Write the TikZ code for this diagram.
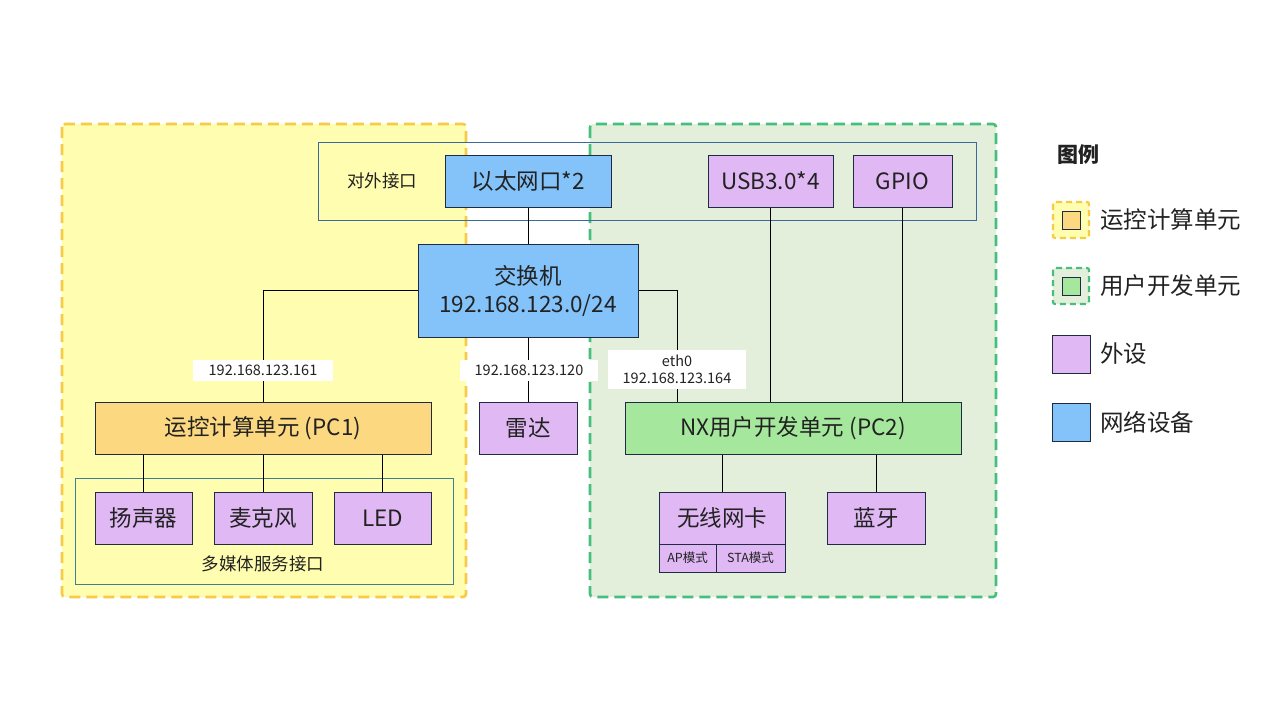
\documentclass[tikz,border=0pt]{standalone}
\usepackage{fontspec}
\setmainfont{Noto Sans CJK SC}
\definecolor{yfill}{HTML}{FFFDAF}
\definecolor{ydash}{HTML}{F7CB45}
\definecolor{gfill}{HTML}{E3EFDA}
\definecolor{gdash}{HTML}{45BE7E}
\definecolor{cblue}{HTML}{83C3FA}
\definecolor{cpurple}{HTML}{E0B8F4}
\definecolor{corange}{HTML}{FCD981}
\definecolor{cgreen}{HTML}{A5E79C}
\definecolor{lnc}{HTML}{1F2A44}
\definecolor{ifc}{HTML}{3A6A9A}
\definecolor{mmc}{HTML}{3F7F8F}
\definecolor{txt}{HTML}{222222}
\tikzset{
  wh/.style 2 args={minimum width=#1pt, minimum height=#2pt},
  dev/.style={draw=lnc, line width=1pt, inner sep=0pt, text=txt, font=\fontsize{22.5}{26}\selectfont},
  small/.style={draw=lnc, line width=1pt, inner sep=0pt, text=txt, font=\fontsize{12.5}{14}\selectfont},
  grpY/.style={draw=ydash, fill=yfill, line width=2.6pt, dash pattern=on 11pt off 6pt, rounded corners=3pt},
  grpG/.style={draw=gdash, fill=gfill, line width=2.6pt, dash pattern=on 11pt off 6pt, rounded corners=3pt},
  wire/.style={draw=black, line width=1pt},
  iplbl/.style={fill=white, inner sep=0pt, text=txt, font=\fontsize{14.5}{17}\selectfont, align=center},
  frametxt/.style={text=txt, font=\fontsize{17.5}{20}\selectfont, inner sep=0pt},
  legtxt/.style={text=txt, font=\fontsize{23.5}{26}\selectfont, inner sep=0pt, anchor=west},
}
\begin{document}
\begin{tikzpicture}[x=1pt,y=-1pt]
\useasboundingbox (0,0) rectangle (1280,720);
\fill[white] (0,0) rectangle (1280,720);

% groups
\draw[grpY] (62,124) rectangle (466,597);
\draw[grpG] (590,124) rectangle (996,597);

% external interface frame
\node[draw=ifc, line width=1pt, wh={658}{78}, inner sep=0pt] (ext) at (647,181) {};
\node[frametxt] (extlbl) at (382,181) {对外接口};

% multimedia frame
\node[draw=mmc, line width=1pt, wh={378}{106}, inner sep=0pt] (mm) at (264,531) {};
\node[frametxt] (mmlbl) at (263,564) {多媒体服务接口};

% devices
\node[dev, fill=cblue, wh={166}{52}] (eth) at (528,181) {以太网口*2};
\node[dev, fill=cpurple, wh={125}{52}] (usb) at (770.5,181) {USB3.0*4};
\node[dev, fill=cpurple, wh={99}{52}] (gpio) at (902.5,181) {GPIO};
\node[dev, fill=cblue, wh={220}{93}, align=center] (sw) at (528,290.5) {交换机\\[2pt]192.168.123.0/24};
\node[dev, fill=corange, wh={336}{52}] (pc1) at (263,428) {运控计算单元 (PC1)};
\node[dev, fill=cpurple, wh={98}{52}] (radar) at (528,428) {雷达};
\node[dev, fill=cgreen, wh={336}{52}] (pc2) at (793,428) {NX用户开发单元 (PC2)};
\node[dev, fill=cpurple, wh={97}{52}] (spk) at (143.5,518) {扬声器};
\node[dev, fill=cpurple, wh={98}{52}] (mic) at (263,518) {麦克风};
\node[dev, fill=cpurple, wh={97}{52}] (led) at (382.5,518) {LED};
\node[dev, fill=cpurple, wh={126}{52}] (wifi) at (722,518) {无线网卡};
\node[dev, fill=cpurple, wh={98}{52}] (bt) at (876,518) {蓝牙};
\node[small, fill=cpurple, wh={57}{28}] (ap) at (687.5,558) {AP模式};
\node[small, fill=cpurple, wh={69}{28}] (sta) at (750.5,558) {STA模式};

% wires
\draw[wire] (eth) -- (sw);
\draw[wire] (sw.west) -| (pc1.north);
\draw[wire] (sw.south) -- (radar.north);
\node[iplbl, wh={140}{21}] (ip1) at (263,370) {192.168.123.161};
\node[iplbl, wh={138}{21}] (ip2) at (529,370) {192.168.123.120};
\node[iplbl, wh={138}{39}] (ip3) at (677,369.5) {eth0\\192.168.123.164};
\draw[wire] (sw.east) -| (pc2.north -| ip3);
\draw[wire] (usb) -- (usb |- pc2.north);
\draw[wire] (gpio) -- (gpio |- pc2.north);
\draw[wire] (spk |- pc1.south) -- (spk);
\draw[wire] (mic |- pc1.south) -- (mic);
\draw[wire] (led |- pc1.south) -- (led);
\draw[wire] (wifi |- pc2.south) -- (wifi);
\draw[wire] (bt |- pc2.south) -- (bt);
% redraw labels over wires
\node[iplbl, wh={140}{21}] at (ip1) {192.168.123.161};
\node[iplbl, wh={138}{21}] at (ip2) {192.168.123.120};
\node[iplbl, wh={138}{39}] at (ip3) {eth0\\192.168.123.164};

% legend
\node[text=txt, font=\fontsize{21}{24}\selectfont\bfseries, inner sep=0pt, anchor=west] (legt) at (1057,155) {图例};
\draw[grpY, line width=2.2pt, dash pattern=on 6pt off 4pt, rounded corners=2pt] (1053,202) rectangle (1089,238);
\node[draw=lnc, line width=1pt, fill=corange, wh={18}{18}, inner sep=0pt] (lg1) at (1071,220) {};
\node[legtxt] (lt1) at (1100,220) {运控计算单元};
\draw[grpG, line width=2.2pt, dash pattern=on 6pt off 4pt, rounded corners=2pt] (1053,268) rectangle (1089,304);
\node[draw=lnc, line width=1pt, fill=cgreen, wh={18}{18}, inner sep=0pt] (lg2) at (1071,286) {};
\node[legtxt] (lt2) at (1100,286) {用户开发单元};
\node[draw=lnc, line width=1pt, fill=cpurple, wh={38}{38}, inner sep=0pt] (lg3) at (1071,354) {};
\node[legtxt] (lt3) at (1100,354) {外设};
\node[draw=lnc, line width=1pt, fill=cblue, wh={38}{38}, inner sep=0pt] (lg4) at (1071,422) {};
\node[legtxt] (lt4) at (1100,422) {网络设备};
\end{tikzpicture}
\end{document}
